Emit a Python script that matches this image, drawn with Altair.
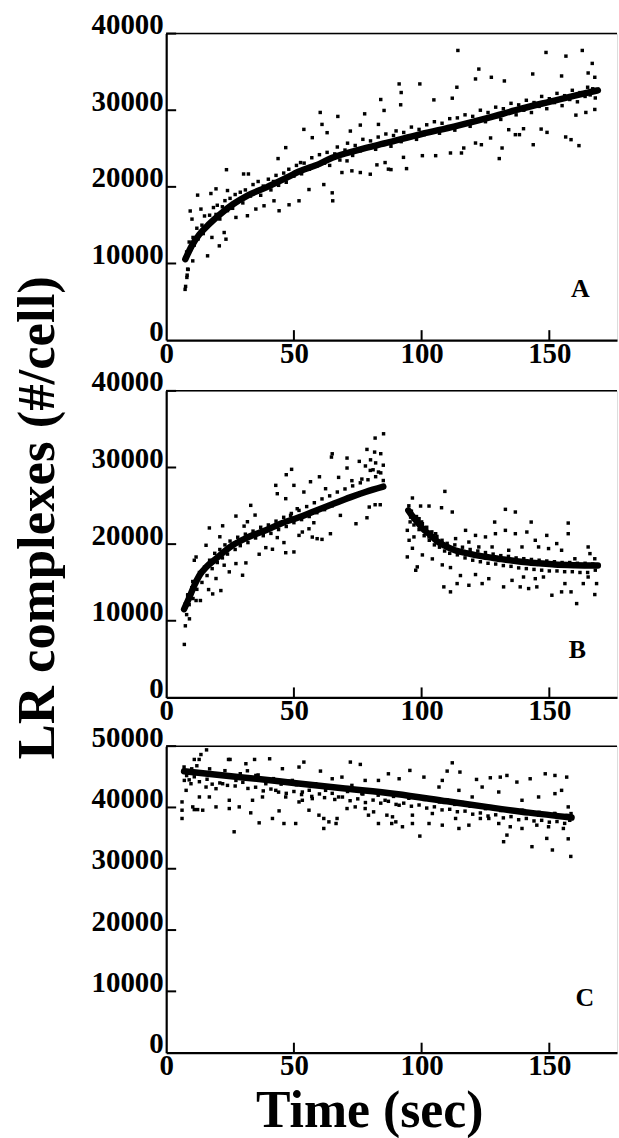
import altair as alt
import pandas as pd

FONT = "Liberation Serif"
X_MAX = 176.5

x_ticks = [0, 50, 100, 150]
y_ticks_ab = [0, 10000, 20000, 30000, 40000]
y_ticks_c = [0, 10000, 20000, 30000, 40000, 50000]

# ---------------- Panel A ----------------
a_scatter = [
    (7.4, 6620), (7.6, 7010), (8.1, 8180), (8.6, 9220), (8.2, 8480), (8.4, 9260), (10.4, 10340),
    (9.4, 16850), (12.3, 18920), (13.6, 17100), (10.1, 15790), (16.2, 11000), (20.8, 12300),
    (17.9, 13400), (23.4, 13170), (22.7, 14040), (17.5, 19130), (19.5, 19740), (24, 19520),
    (23.6, 22240), (30.3, 21680), (32.2, 21680), (27.3, 16010), (31.8, 16230), (35.1, 17100),
    (38.3, 17530), (42.2, 18180), (44.2, 16880), (48.1, 17660), (52, 18180), (46.8, 25120),
    (43.8, 23690), (52.6, 23170), (53.9, 27500), (57.2, 26420), (60.3, 29710), (61, 28150),
    (55.9, 19650), (65, 19220), (65.2, 18180), (61.7, 20300), (67.2, 29190), (63, 27070),
    (72.1, 27280), (77.7, 29530), (76, 28060), (83.1, 28150), (84, 31400), (85.3, 29970),
    (87, 22310), (79.9, 21650), (76, 21870), (72.7, 22090), (82.5, 22870), (85.7, 23170),
    (68.8, 21870), (70.8, 23390),
    (114.2, 37800), (148.7, 37540), (156.5, 37060), (162.9, 37800), (166.8, 36110), (122.4, 35370),
    (143.5, 34730), (154.8, 34470), (165.2, 34860), (167.8, 34300), (91.2, 33430), (99.3, 33430),
    (121.1, 34080), (113.8, 33000), (127.3, 34300), (132.4, 33820), (92, 32310), (104.8, 31350),
    (112, 31570), (91.8, 30710), (88, 22250), (94.1, 22380), (92.9, 23850), (100.3, 24070),
    (105.5, 24070), (111.3, 24420), (115.6, 24420), (123.4, 25500), (130.4, 23690), (131.5, 25070),
    (136.7, 26810), (138.3, 26810), (143.7, 25500), (149.1, 27110), (156.4, 26510), (158.5, 26160),
    (161.6, 25380), (160.4, 29360), (164.3, 29710), (167.8, 30100), (116.5, 25070), (121.1, 25720),
    (127, 26380), (134.1, 27460), (139.9, 27590), (146.8, 27540),
]
a_band = [
    (8, 11500), (9, 12800), (9.5, 11800), (10.5, 13400), (11, 12400), (12, 14600), (12.5, 13200),
    (14, 15000), (14.5, 13900), (15, 16200), (16, 14800), (17, 16300), (18, 15500), (18.5, 17300),
    (19.5, 16400), (20, 17600), (21, 15800), (22, 17400), (23, 18200), (24, 16900), (25, 18500),
    (26, 17200), (27, 19000), (28, 18100), (29, 19300), (30, 17900), (31, 19600), (33, 18800),
    (34, 20300), (35, 19300), (36, 20700), (37, 18900), (38, 20100), (40, 21000), (41, 19600),
    (42, 20700), (43, 21500), (44, 20200), (46, 21800), (47, 20600), (48, 22300), (50, 21400),
    (51, 22800), (53, 21700), (54, 23100), (56, 22300), (57, 23800), (59, 22700), (60, 24200),
    (62, 23100), (63, 24500), (64, 22800), (66, 24300), (67, 25200), (68, 23500), (70, 24800),
    (71, 25700), (73, 24100), (74, 25400), (76, 24700), (77, 26200), (79, 25100), (80, 26000),
    (82, 24900), (83, 26500), (85, 25600), (86, 26900), (88, 25300), (89, 26700), (90, 27300),
    (92, 25900), (93, 27100), (95, 26400), (96, 27800), (98, 26200), (99, 27500), (101, 26800),
    (102, 28100), (104, 27200), (105, 28500), (107, 27000), (108, 28300), (110, 27600), (111, 28900),
    (113, 27400), (114, 29000), (116, 28200), (117, 29400), (119, 27900), (120, 29200), (122, 28700),
    (123, 30000), (125, 28500), (126, 29700), (128, 29100), (129, 30400), (131, 28800), (132, 30200),
    (134, 29600), (135, 30900), (137, 29400), (138, 30700), (140, 30000), (141, 31300), (143, 29700),
    (144, 31000), (146, 30500), (147, 31800), (149, 30200), (150, 31500), (152, 31000), (153, 32200),
    (155, 30600), (156, 31900), (158, 31400), (159, 32600), (161, 31100), (162, 32300), (164, 31800),
    (165, 33000), (166, 32000), (167, 32800), (168, 31600),
]
a_fit_t = [7.5, 10, 13, 17, 21, 26, 32, 39, 46, 52, 60, 65, 75, 87, 100, 113, 126, 139, 150, 160, 169]
a_fit_v = [10560, 12300, 13800, 15200, 16400, 17700, 18900, 19900, 21000, 22000, 23000, 23800,
           24800, 25800, 26900, 27900, 29000, 30200, 31100, 31900, 32600]

# ---------------- Panel B ----------------
b_scatter = [
    (7.1, 6910), (7.5, 9340), (9.1, 10250), (8.4, 13330), (10.4, 15120), (11.7, 12640), (13.4, 12640),
    (16.6, 14070), (18.2, 13500), (21.4, 13940), (11, 17890), (11.7, 18320), (15.6, 19850),
    (16.9, 22110), (22.1, 22390), (21, 20960), (27.3, 23660), (30.5, 22350), (31.8, 22920),
    (33.1, 25060), (34.8, 23790), (27.3, 17460), (31.2, 17550), (29.9, 15940), (19.5, 15510),
    (24.7, 16380), (22.7, 17250), (36.4, 18680), (39, 19540), (41.6, 19330), (43.5, 20850),
    (46.8, 18880), (50, 18980), (46.1, 20200), (43.5, 26580), (42.9, 27670), (47, 29060),
    (49.1, 29760), (50, 27670), (53.9, 26800), (53.3, 21580), (52, 21140), (55.9, 22000),
    (57.2, 20920), (59.1, 20710), (61, 20620), (57.8, 22790), (64.3, 21360), (56.5, 28140),
    (60, 28790), (64.7, 31360), (65, 31790), (70.8, 31230), (75.6, 30800), (70.8, 29930),
    (74.3, 22660), (78.6, 23440), (81.8, 25140), (83.8, 25140), (81.8, 33840), (85.1, 34400),
    (78.6, 32360), (81.6, 32010), (79.9, 29620), (83.1, 29410), (79.5, 24840), (68.2, 23750),
    (67.5, 28710), (72.7, 28280), (76.6, 28490), (62.4, 27230), (48.7, 23750), (51.3, 24620),
    (46.8, 25930), (78, 30200), (80, 31000), (82, 30600), (84, 31800), (85, 30300), (81, 29700),
    (96.4, 26020), (109.1, 26880), (99.6, 24970), (102.9, 24970), (107.8, 24750), (112, 24190),
    (132.8, 24540), (136.7, 24190), (142.9, 22880), (157.4, 22750), (128.6, 22880), (94.4, 18330),
    (97.7, 16590), (98.3, 17030), (94.4, 21800), (95.1, 20500), (96.4, 19460), (100.3, 18590),
    (104.2, 18070), (108.1, 17290), (111.3, 16940), (115.2, 15900), (108.7, 14420), (111.3, 13770),
    (113.9, 14850), (118.5, 14630), (121.1, 16030), (123.7, 14850), (126.3, 15490), (132.1, 14420),
    (135.4, 15270), (138.6, 14420), (141.9, 14200), (145.1, 14420), (139.9, 15710), (144.5, 15490),
    (147.7, 15710), (151, 13330), (154.8, 13770), (158.5, 13770), (160.7, 12240), (163.3, 14850),
    (167.8, 13420), (168.5, 14850), (165.2, 15710), (156.1, 14850), (117.2, 21800), (121.1, 21140),
    (125, 20940), (128.9, 21360), (132.8, 21800), (136.7, 21360), (141.2, 21580), (144.5, 20500),
    (149, 21140), (152.9, 20070), (157.4, 21360), (165.2, 19630), (167.8, 18090), (165.9, 18760),
    (160, 18090), (154.8, 19200), (149.7, 19420), (145.8, 19630), (139.3, 19630), (134.1, 19200),
    (127.6, 19630), (122.4, 19630), (118.5, 20270), (113.3, 20720), (105.5, 21360), (102.9, 20940),
    (100.3, 22660), (97, 20940), (95.7, 23530), (99, 23320),
]
b_band = [
    (7.5, 12200), (8, 10800), (8.5, 13400), (9, 12100), (10, 14300), (10.5, 12900), (11.5, 15200),
    (12, 14100), (13, 16300), (14, 15000), (15, 17000), (16, 15900), (17, 17900), (18, 16800),
    (19, 18800), (20, 17600), (21, 19300), (22, 18200), (23, 19900), (24, 18700), (25, 20400),
    (27, 19300), (28, 20900), (29, 19800), (31, 21300), (32, 20200), (34, 21700), (35, 20800),
    (37, 22200), (38, 21100), (40, 22500), (41, 21400), (43, 23000), (44, 21900), (46, 23500),
    (47, 22300), (49, 24000), (50, 22800), (52, 24400), (53, 23200), (55, 24900), (56, 23600),
    (58, 25400), (59, 24100), (61, 25900), (62, 24500), (64, 26300), (65, 25000), (67, 26800),
    (68, 25500), (70, 27200), (71, 26000), (73, 27600), (74, 26300), (76, 28000), (77, 26700),
    (79, 28400), (80, 27100), (82, 28800), (83, 27300), (84, 29300), (85, 28300),
    (95, 25000), (95.5, 22900), (96, 24300), (97, 22500), (98, 23600), (99, 21900), (100, 22900),
    (101, 21100), (102, 22200), (103, 20500), (104, 21600), (105, 19900), (106, 21000), (107, 19600),
    (108, 20500), (109, 19100), (110, 20100), (111, 18800), (113, 19900), (114, 18600), (116, 19600),
    (117, 18200), (119, 19300), (120, 17900), (122, 19100), (123, 17700), (125, 18900), (126, 17500),
    (128, 18700), (129, 17400), (131, 18500), (132, 17200), (134, 18400), (135, 17100), (137, 18200),
    (138, 16900), (140, 18100), (141, 16800), (143, 18000), (144, 16700), (146, 17900), (147, 16600),
    (149, 17800), (150, 16500), (152, 17700), (153, 16500), (155, 17600), (156, 16400), (158, 17600),
    (159, 16400), (161, 17500), (162, 16300), (164, 17500), (165, 16300), (167, 17400), (168, 16600),
]
b_fit1_t = [7, 9, 11, 13, 16, 19.5, 23, 26, 32, 39, 45, 52, 58, 65, 72, 78, 85]
b_fit1_v = [11500, 13000, 14600, 15900, 17100, 18100, 19100, 19850, 20900, 21800, 22700, 23500,
            24300, 25200, 26100, 26800, 27500]
b_fit2_t = [94.8, 96.5, 98.5, 100.5, 103, 106, 109, 113, 118, 124, 130, 139, 146, 152, 160, 169]
b_fit2_v = [24400, 23600, 22800, 22000, 21300, 20400, 19800, 19200, 18800, 18400, 18100, 17700,
            17500, 17350, 17250, 17200]

# ---------------- Panel C ----------------
c_scatter = [
    (15.8, 49390), (13.6, 48630), (11, 47830), (12.9, 47830), (24.4, 47830), (25, 47830),
    (34.6, 47830), (40.5, 47940), (31.2, 47130), (53.9, 47400), (52, 46590), (45.5, 46320),
    (72.1, 47400), (76, 47020), (60.4, 45930), (6.2, 40900), (6.2, 39550), (6.2, 38200),
    (10.4, 40090), (11, 39650), (12.3, 39650), (14.3, 39550), (19.5, 40090), (24.7, 39820),
    (28.6, 40090), (26.6, 36030), (33.1, 39120), (36.4, 37490), (41.6, 38200), (44.2, 39440),
    (46.1, 37380), (50.7, 37380), (55.9, 39550), (52, 40900), (57.2, 41440), (59.8, 38740),
    (61.7, 38200), (63.7, 37650), (61.7, 36570), (66.9, 38200), (66.5, 37380), (70.8, 39820),
    (74, 40090), (77.9, 39820), (79.2, 38740), (81.2, 39280), (83.1, 37380), (86.4, 38740),
    (88.3, 37380), (85.7, 41170), (16.9, 41710), (7.8, 42790), (7.1, 44410), (9.7, 43870),
    (15.6, 43330), (19.5, 43060), (22.1, 43870), (27.3, 44410), (30.5, 44950), (31.8, 45980),
    (35.1, 45220), (39, 43870), (37.7, 41710), (42.9, 42790), (46.8, 41710), (49.4, 44410),
    (53.3, 42520), (58.5, 43870), (62.4, 42790), (65, 44680), (68.8, 44950), (72.7, 43600),
    (77.9, 44410), (83.1, 44410), (87, 45490), (76.6, 42250), (67.5, 41710), (53.3, 41170),
    (33.8, 41170), (24.7, 41170), (13, 41710),
    (112, 47280), (115, 45770), (110, 45930), (95.4, 46040), (91.2, 44680), (100.9, 44950),
    (108.1, 44410), (121.5, 44570), (126.9, 44840), (130.8, 44950), (133.4, 45220), (137.3, 44140),
    (142.5, 44680), (148.4, 45490), (152.2, 45220), (156.8, 44950), (154.8, 42790), (157.4, 40090),
    (99.3, 35330), (132.1, 34410), (133.4, 35490), (143.2, 33600), (149, 34950), (151.2, 33060),
    (157.4, 34880), (158.4, 32010), (92.5, 36850), (89.9, 37650), (96.4, 37380), (102.9, 37380),
    (108.1, 37110), (114.6, 36570), (118.5, 37110), (123, 38200), (130.2, 37380), (134.7, 36850),
    (139.3, 36570), (145.1, 37110), (149.7, 36850), (155.5, 36570), (126.3, 38200), (113.3, 38200),
    (104.2, 39010), (96.4, 38740), (88.6, 38470), (139.3, 39550), (145.8, 38740), (152.2, 39010),
    (91.2, 40360), (119.8, 41710), (130.2, 42520), (139.3, 41170), (145.8, 41710), (152.2, 42250),
    (106.8, 43330), (114.6, 42790), (123.7, 43330),
]
c_band = [
    (7, 46600), (8, 45200), (9, 44500), (10, 46300), (11, 45000), (12, 46800), (13, 44200),
    (14, 45800), (16, 44600), (17, 46300), (18, 43800), (20, 45400), (21, 44000), (23, 46000),
    (24, 43600), (26, 45100), (27, 43500), (29, 45500), (30, 44100), (32, 43100), (33, 44800),
    (35, 43300), (36, 45300), (38, 42700), (39, 44200), (41, 43000), (42, 44700), (44, 42500),
    (45, 43800), (47, 42300), (48, 44300), (50, 42600), (51, 43700), (53, 42100), (54, 44000),
    (56, 42800), (57, 41800), (59, 43500), (60, 42200), (62, 41600), (63, 43200), (65, 42300),
    (66, 41300), (68, 43000), (69, 41700), (71, 42600), (72, 41100), (74, 42900), (75, 41400),
    (77, 42200), (78, 40800), (80, 42600), (81, 41200), (83, 42000), (84, 40700), (86, 42300),
    (87, 41000), (89, 41800), (90, 40500), (92, 42000), (93, 40700), (95, 41500), (96, 40200),
    (98, 41800), (99, 40400), (101, 41300), (102, 39900), (104, 41500), (105, 40100), (107, 40900),
    (108, 39600), (110, 41200), (111, 39700), (113, 40500), (114, 39300), (116, 40800), (117, 39400),
    (119, 40200), (120, 38900), (122, 40400), (123, 39100), (125, 39800), (126, 38600), (128, 40000),
    (129, 38800), (131, 39500), (132, 38300), (134, 39700), (135, 38500), (137, 39300), (138, 38000),
    (140, 39500), (141, 38200), (143, 39000), (144, 37800), (146, 39200), (147, 37900), (149, 38800),
    (150, 37600), (152, 39000), (153, 37700), (155, 38500), (156, 37400), (157, 38700), (158, 37900),
    (158.5, 39000),
]
c_fit_t = [7, 30, 50, 70, 90, 110, 126, 142, 158.7]
c_fit_v = [45900, 44900, 44000, 43100, 42200, 41000, 40050, 39150, 38350]

PLOT_W = 453
PLOT_H = 308


def pts_df(*lists):
    rows = [p for lst in lists for p in lst]
    return pd.DataFrame({"t": [r[0] for r in rows], "v": [r[1] for r in rows]})


def panel(points, fits, ymax, yticks, letter, letter_t, letter_v, ytitle=False, xtitle=False):
    xs = alt.Scale(domain=[0, X_MAX], nice=False, zero=False)
    ys = alt.Scale(domain=[0, ymax], nice=False)
    common = dict(
        ticks=False, grid=False, domainColor="black", domainWidth=2.2,
        labelFont=FONT, labelFontWeight="bold", labelFontSize=29, labelColor="black",
        labelBaseline="alphabetic", labelFlush=False, labelOverlap=False, format="d",
    )
    xkw = dict(common, values=x_ticks, labelAlign="center", labelPadding=22)
    if xtitle:
        xkw.update(title="Time (sec)", titleFont=FONT, titleFontWeight="bold", titleFontSize=52,
                   titleColor="black", titleX=204, titleY=74, titleAlign="center",
                   titleBaseline="alphabetic", titleAngle=0)
    else:
        xkw.update(title=None)
    ykw = dict(common, values=yticks, labelAlign="right", labelPadding=3)
    if ytitle:
        ykw.update(title="LR complexes (#/cell)", titleFont=FONT, titleFontWeight="bold",
                   titleFontSize=53, titleColor="black", titleAngle=270, titleX=-113, titleY=127,
                   titleAlign="center", titleBaseline="alphabetic")
    else:
        ykw.update(title=None)
    xaxis = alt.Axis(**xkw)
    yaxis = alt.Axis(**ykw)

    X = lambda: alt.X("t:Q", scale=xs, axis=xaxis)
    Y = lambda: alt.Y("v:Q", scale=ys, axis=yaxis)

    layers = [
        alt.Chart(points).mark_square(size=12, color="black", opacity=1).encode(x=X(), y=Y())
    ]
    for ft, fv in fits:
        layers.append(
            alt.Chart(pd.DataFrame({"t": ft, "v": fv}))
            .mark_line(color="black", strokeWidth=6.5, strokeCap="round", strokeJoin="round",
                       interpolate="monotone")
            .encode(x=X(), y=Y())
        )
    # inward y ticks
    layers.append(
        alt.Chart(pd.DataFrame({"v": yticks[1:]}))
        .mark_rule(color="black", strokeWidth=2)
        .encode(y=Y(), x=alt.value(0), x2=alt.value(10))
    )
    # inward x ticks
    layers.append(
        alt.Chart(pd.DataFrame({"t": x_ticks[1:]}))
        .mark_rule(color="black", strokeWidth=2)
        .encode(x=X(), y=alt.value(PLOT_H), y2=alt.value(PLOT_H - 10))
    )
    # top frame line
    layers.append(
        alt.Chart(pd.DataFrame({"t": [0]}))
        .mark_rule(color="black", strokeWidth=1.5)
        .encode(x=alt.value(0), x2=alt.value(PLOT_W), y=alt.value(0))
    )
    # panel letter
    layers.append(
        alt.Chart(pd.DataFrame({"t": [letter_t], "v": [letter_v], "lab": [letter]}))
        .mark_text(font=FONT, fontWeight="bold", fontSize=26, color="black",
                   align="center", baseline="alphabetic")
        .encode(x=X(), y=Y(), text="lab:N")
    )
    return alt.layer(*layers).properties(width=PLOT_W, height=PLOT_H)


pa = panel(pts_df(a_scatter, a_band), [(a_fit_t, a_fit_v)], 40000, y_ticks_ab, "A", 162.1, 5590)
pb = panel(pts_df(b_scatter, b_band), [(b_fit1_t, b_fit1_v), (b_fit2_t, b_fit2_v)], 40000,
           y_ticks_ab, "B", 161, 5080, ytitle=True)
pc = panel(pts_df(c_scatter, c_band), [(c_fit_t, c_fit_v)], 50000, y_ticks_c, "C", 163.9, 7630,
           xtitle=True)

inner = alt.vconcat(pb, pc, spacing=49, bounds="flush")
chart = (
    alt.vconcat(pa, inner, spacing=51, bounds="flush")
    .properties(padding={"left": 11, "top": 7, "right": 0, "bottom": 0})
    .configure_view(stroke=None)
    .configure(background="white")
)

chart.save("out.html", embed_options={"renderer": "svg", "actions": False})
